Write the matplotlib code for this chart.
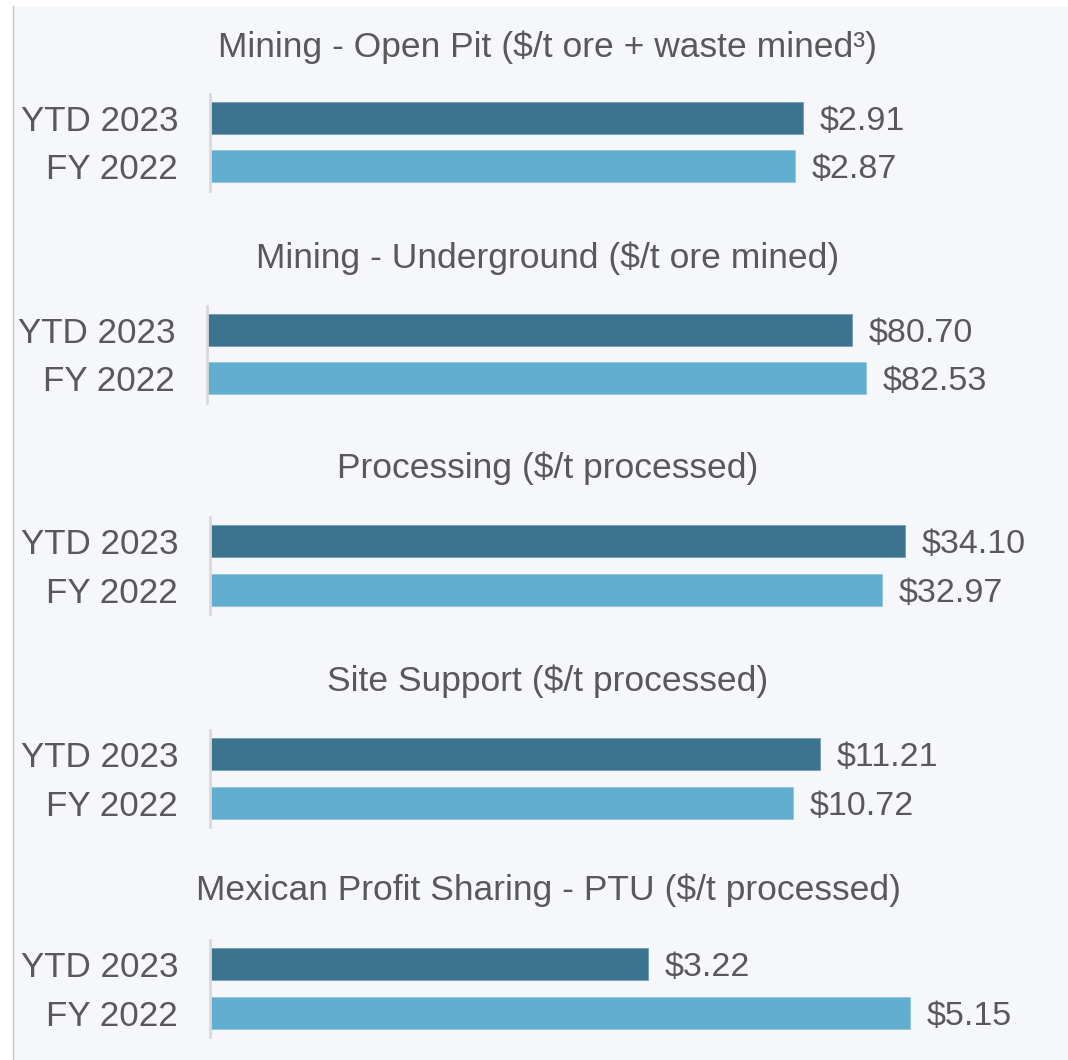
import matplotlib
matplotlib.use("Agg")
import matplotlib.pyplot as plt
from matplotlib.patches import Rectangle
from matplotlib.lines import Line2D

plt.rcParams['font.family'] = ['Liberation Sans', 'DejaVu Sans']

titles = [
    "Mining - Open Pit ($/t ore + waste mined\u00b3)",
    "Mining - Underground ($/t ore mined)",
    "Processing ($/t processed)",
    "Site Support ($/t processed)",
    "Mexican Profit Sharing - PTU ($/t processed)",
]
categories = ["YTD 2023", "FY 2022"]
ytd_2023 = [2.91, 80.70, 34.10, 11.21, 3.22]
fy_2022 = [2.87, 82.53, 32.97, 10.72, 5.15]
labels_ytd = ["$2.91", "$80.70", "$34.10", "$11.21", "$3.22"]
labels_fy = ["$2.87", "$82.53", "$32.97", "$10.72", "$5.15"]

# layout (pixels)
W, H = 1068, 1060
xmax = [4.12, 105.5, 41.2, 15.44, 6.18]
ax_left = [210, 207, 210, 210, 210]
ax_right = 1050
panel_mid = [142, 354, 565.5, 778.5, 988.5]
title_y = [47, 258, 468, 681, 890]
half_h = 48.5

dark = "#3c7490"
light = "#62aed0"
txt = "#595959"

fig = plt.figure(figsize=(W / 100, H / 100), dpi=100, facecolor="white")
fig.patches.append(Rectangle((14 / W, 0), 1 - 14 / W, 1 - 6 / H, transform=fig.transFigure,
                             facecolor="#f5f7fb", edgecolor="none", zorder=-10))
fig.lines.append(Line2D([13 / W, 13 / W], [0, 1 - 6 / H], transform=fig.transFigure,
                        color="#c8c8c8", lw=1.0, zorder=-9))

for i in range(len(titles)):
    x0 = ax_left[i] / W
    w = (ax_right - ax_left[i]) / W
    y0 = 1 - (panel_mid[i] + half_h) / H
    h = 2 * half_h / H
    ax = fig.add_axes([x0, y0, w, h])
    ax.set_facecolor("none")
    vals = [ytd_2023[i], fy_2022[i]]
    labs = [labels_ytd[i], labels_fy[i]]
    ax.barh([0, 1], vals, height=0.66, color=[dark, light],
            edgecolor=["#6f9fb8", "#8ec6de"], linewidth=0.6)
    ax.set_xlim(0, xmax[i])
    ax.set_ylim(1.5, -0.5)
    ax.set_yticks([0, 1])
    ax.set_yticklabels(categories, fontsize=25.2, color=txt)
    ax.tick_params(axis='y', length=0, pad=23)
    ax.set_xticks([])
    for s in ["top", "right", "bottom"]:
        ax.spines[s].set_visible(False)
    ax.spines["left"].set_color("#d9d9d9")
    ax.spines["left"].set_linewidth(2)
    for j, (v, lab) in enumerate(zip(vals, labs)):
        ax.annotate(lab, (v, j), xytext=(12, -2.5), textcoords="offset points",
                    va="center", ha="left", fontsize=24.5, color=txt)
    fig.text(548 / W, 1 - title_y[i] / H, titles[i], ha="center", va="center",
             fontsize=25.5, color=txt)

fig.savefig("out.png", dpi=100, facecolor=fig.get_facecolor())
